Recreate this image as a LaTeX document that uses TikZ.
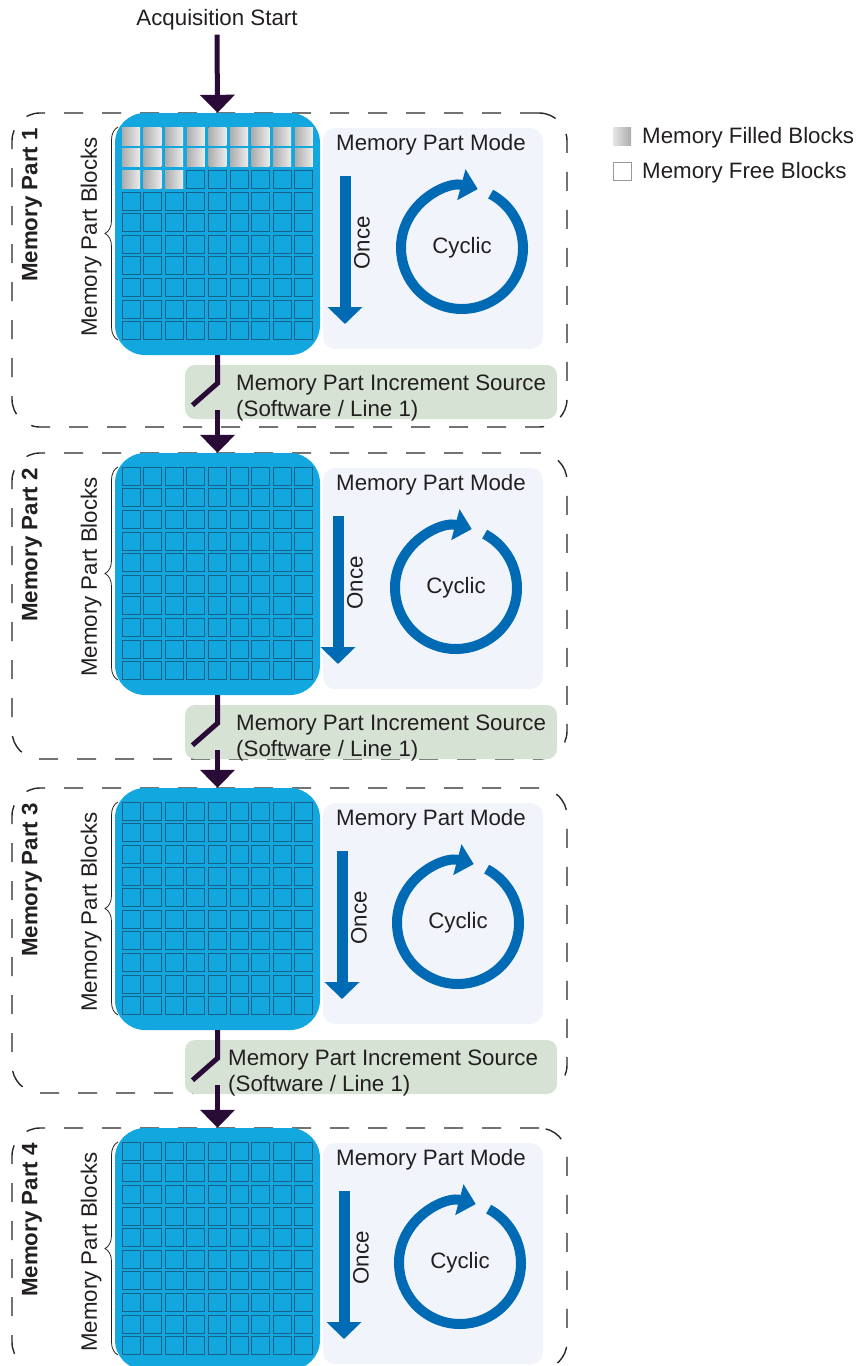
\documentclass[tikz,border=0pt]{standalone}
\usepackage{fontspec}
\setmainfont{Liberation Sans}
\usetikzlibrary{arrows.meta,decorations.pathreplacing,calc}
\definecolor{blkblue}{RGB}{18,167,223}
\definecolor{cellline}{RGB}{24,98,138}
\definecolor{modebg}{RGB}{241,245,251}
\definecolor{incbg}{RGB}{213,226,212}
\definecolor{arrblue}{RGB}{0,106,180}
\definecolor{connc}{RGB}{42,10,54}
\definecolor{dashc}{RGB}{40,40,40}
\definecolor{txtc}{RGB}{35,31,32}
\tikzset{
  blk/.style={fill=blkblue, rounded corners=30pt, minimum width=205pt, minimum height=242pt, inner sep=0pt, draw=none},
  partbox/.style={draw=dashc, line width=1.4pt, dash pattern=on 19pt off 19pt, rounded corners=28pt, minimum width=555pt, inner sep=0pt},
  modepanel/.style={fill=modebg, rounded corners=12pt, minimum width=220pt, minimum height=221pt, inner sep=0pt},
  incbox/.style={fill=incbg, rounded corners=10pt, minimum width=372pt, minimum height=54pt, inner sep=0pt},
  connline/.style={draw=connc, line width=5pt},
  connarrow/.style={connline, -{Triangle[width=34pt,length=18pt]}},
  oncearrow/.style={draw=arrblue, line width=11pt, -{Triangle[width=34pt,length=17pt]}},
  cyclearrow/.style={draw=arrblue, line width=10pt, -{Triangle[width=31pt,length=17pt]}},
  cell/.style={draw=cellline, line width=1pt},
  filledcell/.style={left color=gray!65, right color=gray!15, draw=none},
  bracestyle/.style={decorate, decoration={brace, amplitude=13pt}, line width=0.8pt, draw=txtc},
  lbl/.style={text=txtc, inner sep=0pt},
}
% #1 id, #2 top y, #3 circle x, #4 once x, #5 filled count, #6 box height
\newcommand\MemPart[6]{%
  \node[partbox, minimum height=#6pt] (pb#1) at (289.5,{#2+#6/2}) {};
  \node[blk] (b#1) at (217.5,{#2+121}) {};
  \foreach \r in {0,...,9}{
    \foreach \c in {0,...,8}{
      \pgfmathtruncatemacro\idx{\r*9+\c}
      \ifnum\idx<#5\relax
        \fill[filledcell] ({122+\c*21.6},{#2+14.3+\r*21.6}) rectangle ++(18,18);
      \else
        \draw[cell] ({122+\c*21.6},{#2+14.3+\r*21.6}) rectangle ++(18,18);
      \fi
    }
  }
  \draw[bracestyle] (118,{#2+227}) -- (118,{#2+14});
  \node[lbl, rotate=90] (mpb#1) at (91,{#2+124}) {Memory Part Blocks};
  \node[lbl, rotate=90, font=\fontsize{22.3}{26}\selectfont\bfseries] (mpl#1) at (32,{#2+92}) {Memory Part #1};
  \node[modepanel] (mp#1) at (433,{#2+125.5}) {};
  \node[lbl] (mt#1) at (431,{#2+31.5}) {Memory Part Mode};
  \coordinate (oa#1) at (#4,{#2+63});
  \coordinate (ob#1) at (#4,{#2+211});
  \draw[oncearrow] (oa#1) -- (ob#1);
  \node[lbl, rotate=90] (once#1) at ({#4+17},{#2+130}) {Once};
  \node[lbl] (cy#1) at (#3,{#2+135}) {Cyclic};
  \draw[cyclearrow] (cy#1.center) ++(62:61pt) arc[start angle=62, end angle=-285, radius=61pt];
}
% #1 id, #2 top y, #3 text x
\newcommand\IncSrc[3]{%
  \node[incbox] (inc#1) at (371,{#2+279}) {};
  \node[lbl, anchor=west, align=left] (inct#1) at (#3,{#2+285.5}) {Memory Part Increment Source\\(Software / Line 1)};
  \draw[connline] (b#1.south) -- ++(0,28) coordinate (sa#1) -- ++(-25,22) coordinate (sb#1);
  \coordinate (t#1) at (217.5,{#2+297});
}
\begin{document}
\begin{tikzpicture}[x=1pt,y=-1pt, font=\fontsize{22.3}{26}\selectfont]
\useasboundingbox (0,0) rectangle (862,1366);
\clip (0,0) rectangle (862,1366);
\node[lbl] (acq) at (217,20) {Acquisition Start};
\MemPart{1}{113}{462}{345}{21}{314}
\IncSrc{1}{113}{236}
\MemPart{2}{453}{456}{338}{0}{306}
\IncSrc{2}{453}{236}
\MemPart{3}{788}{458}{342}{0}{305}
\IncSrc{3}{788}{228}
\MemPart{4}{1128}{460}{344}{0}{242}
\draw[connarrow] ([yshift=-4pt]acq.south) -- (b1.north);
\draw[connarrow] (t1) -- (b2.north);
\draw[connarrow] (t2) -- (b3.north);
\draw[connarrow] (t3) -- (b4.north);
% legend
\node[minimum size=18pt, inner sep=0pt, left color=gray!20, right color=gray!65] (lfill) at (622,136) {};
\node[lbl, anchor=west] (lfillt) at (642,138) {Memory Filled Blocks};
\node[minimum size=18pt, inner sep=0pt, draw=gray!80, fill=white, line width=0.8pt] (lfree) at (622,171) {};
\node[lbl, anchor=west] (lfreet) at (642,173) {Memory Free Blocks};
\end{tikzpicture}
\end{document}
